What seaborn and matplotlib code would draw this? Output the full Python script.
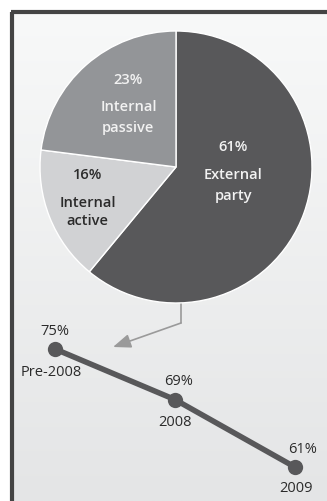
import numpy as np
import pandas as pd
import matplotlib
matplotlib.use("Agg")
import matplotlib.pyplot as plt
import seaborn as sns

# pie data
slices = ["External party", "Internal active", "Internal passive"]
shares = [61, 16, 23]
slice_colors = ["#58585a", "#d1d2d4", "#939598"]
text_colors = ["#f2f2f2", "#2b2b2b", "#f2f2f2"]

# line data
periods = ["Pre-2008", "2008", "2009"]
ext_share = [75, 69, 61]

sns.set_theme(style="white")
plt.rcParams['font.family'] = ['Open Sans', 'DejaVu Sans']

W, H = 327, 501
fig = plt.figure(figsize=(W / 100, H / 100), dpi=100)
fig.patch.set_facecolor("white")

def px_axes(x0, y0, x1, y1):
    # axes from pixel box (top-left origin)
    return fig.add_axes([x0 / W, 1 - y1 / H, (x1 - x0) / W, (y1 - y0) / H])

# background panel with gradient
bg = px_axes(0, 0, W, H)
bg.set_xlim(0, W)
bg.set_ylim(H, 0)
grad = np.linspace(0, 1, 256).reshape(-1, 1)
cmap = matplotlib.colors.LinearSegmentedColormap.from_list("bg", ["#f8f9f9", "#e4e5e6"])
bg.imshow(grad, extent=(11, W, H, 11), cmap=cmap, aspect="auto", zorder=0)
bg.plot([12, 12], [H, 11.5], color="#444444", lw=3, solid_capstyle="butt", zorder=2)
bg.plot([10.5, W], [11.5, 11.5], color="#444444", lw=3, solid_capstyle="butt", zorder=2)
# pointer from pie to line chart
bg.plot([181, 181], [296, 323], color="#9a9a9a", lw=1.2, zorder=1)
bg.annotate("", xy=(113, 347), xytext=(181, 323),
            arrowprops=dict(arrowstyle="-|>,head_length=0.9,head_width=0.35",
                            color="#9a9a9a", lw=1.2, shrinkA=0, shrinkB=0), zorder=1)
bg.axis("off")

# pie
pie_ax = px_axes(40, 31, 312, 303)
wedges, _ = pie_ax.pie(shares, colors=slice_colors, startangle=90, counterclock=False,
                       wedgeprops=dict(edgecolor="white", linewidth=1))
pie_ax.set_xlim(-1, 1)
pie_ax.set_ylim(-1, 1)
pie_ax.axis("off")

# label lines: (x, y of percent, y of first word, y of second word)
label_pos = {"External party": (0.42, 0.15, -0.06, -0.21),
             "Internal active": (-0.65, -0.06, -0.265, -0.40),
             "Internal passive": (-0.35, 0.64, 0.44, 0.29)}
for name, val, tc in zip(slices, shares, text_colors):
    x, y0, y1, y2 = label_pos[name]
    w1, w2 = name.split(" ")
    for txt, yy in [(f"{val}%", y0), (w1, y1), (w2, y2)]:
        pie_ax.text(x, yy, txt, ha="center", va="center", color=tc,
                    fontsize=10.5, fontweight="semibold")

# line chart
line_ax = px_axes(13, 320, 320, 495)
df = pd.DataFrame({"period": periods, "share": ext_share})
sns.lineplot(data=df, x="period", y="share", ax=line_ax, color="#58585a", lw=4,
             marker="o", markersize=11, markeredgewidth=0, sort=False)
line_ax.set_xlim(-0.35, 2.21)
line_ax.set_ylim(57.68, 78.44)
line_ax.axis("off")

top_off = [(0, 17), (4, 18), (8, 18)]
bot_off = [(-4, -24), (0, -23), (1, -21)]
for i, (p, v) in enumerate(zip(periods, ext_share)):
    line_ax.annotate(f"{v}%", (i, v), xytext=top_off[i], textcoords="offset pixels",
                     ha="center", va="center", fontsize=10.5, color="#2b2b2b")
    line_ax.annotate(p, (i, v), xytext=bot_off[i], textcoords="offset pixels",
                     ha="center", va="center", fontsize=10.5, color="#2b2b2b")

fig.savefig("out.png", dpi=100)
